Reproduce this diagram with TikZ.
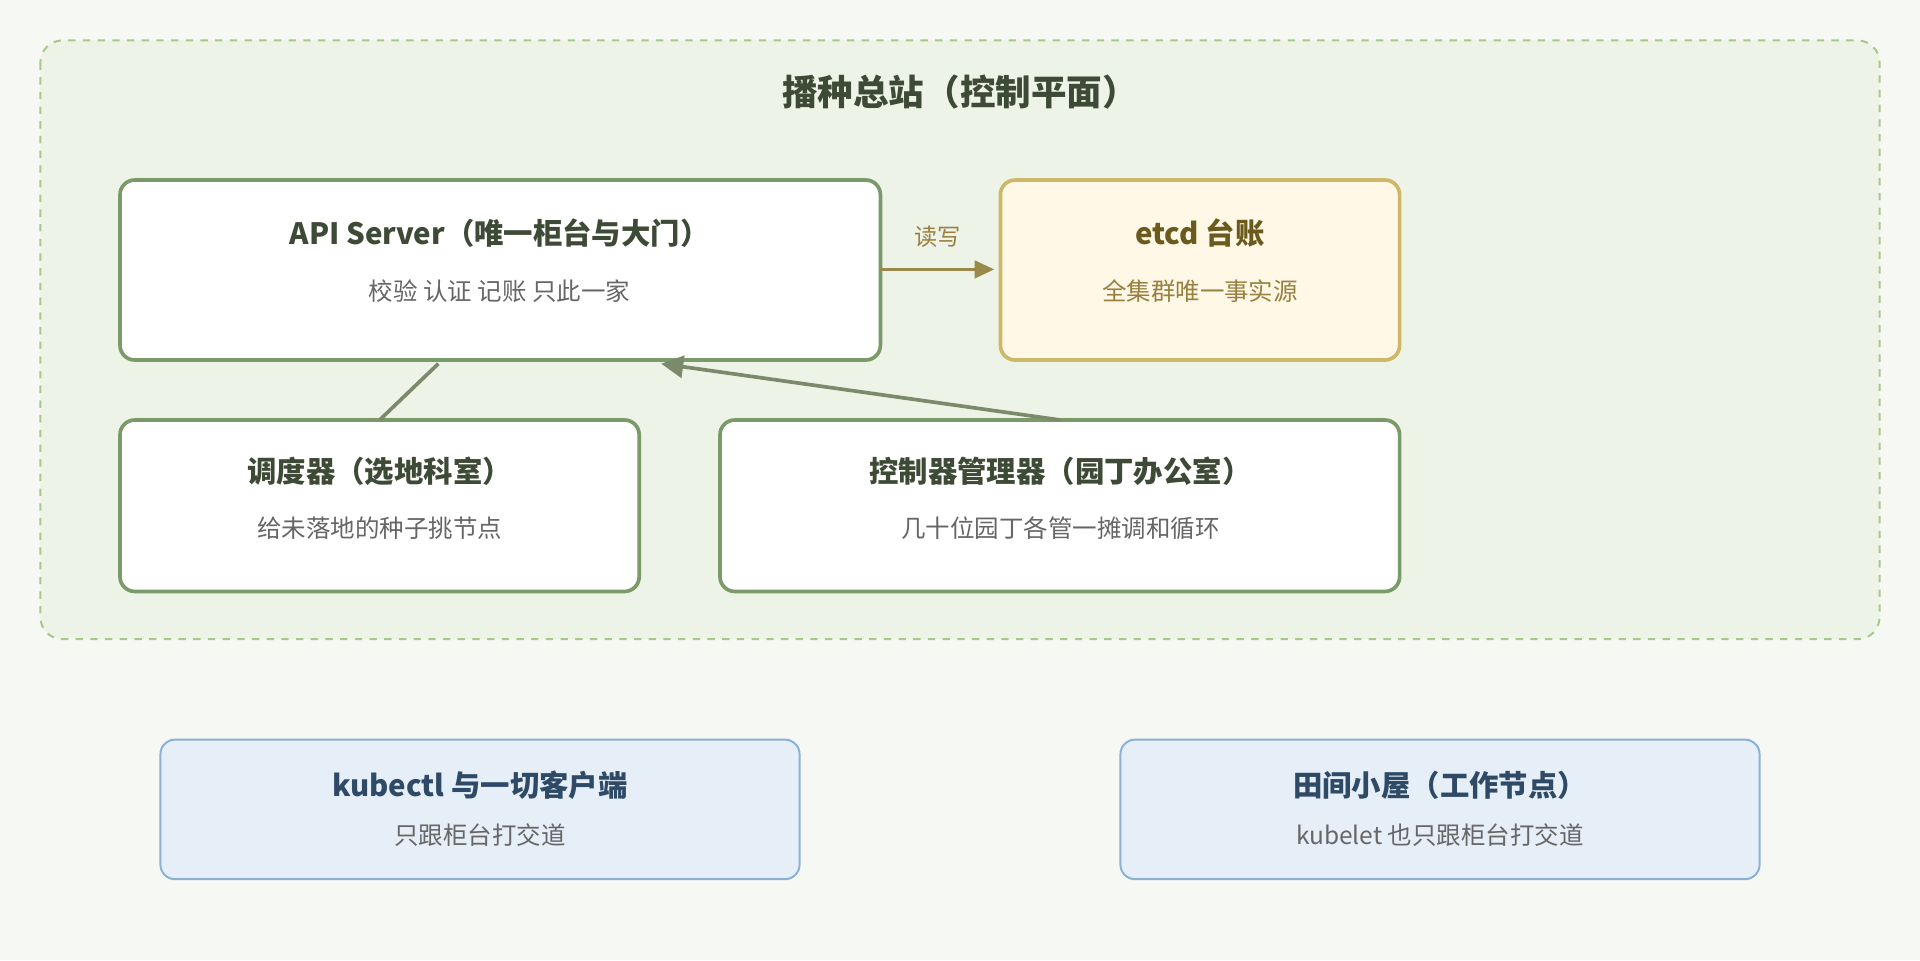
\documentclass[tikz,border=0pt]{standalone}
\usepackage{fontspec}
\setmainfont{Noto Sans CJK SC}
\usetikzlibrary{arrows.meta}
\definecolor{bg}{HTML}{F6F8F4}
\definecolor{grpfill}{HTML}{EEF3E8}
\definecolor{grpline}{HTML}{A8C88A}
\definecolor{gline}{HTML}{7A9A6A}
\definecolor{gtext}{HTML}{3D4A35}
\definecolor{subtext}{HTML}{666666}
\definecolor{efill}{HTML}{FFF8E6}
\definecolor{eline}{HTML}{CDB86A}
\definecolor{etext}{HTML}{6B5A1E}
\definecolor{esub}{HTML}{9A8040}
\definecolor{arr}{HTML}{9A8A4A}
\definecolor{conn}{HTML}{7A8A6A}
\definecolor{bfill}{HTML}{E6EEF7}
\definecolor{bline}{HTML}{8AB0D8}
\definecolor{btext}{HTML}{2E4A66}
\begin{document}
\begin{tikzpicture}[x=0.5pt,y=-0.5pt,
  box/.style={draw=gline,line width=1.5pt,fill=white,rounded corners=6pt},
  ebox/.style={draw=eline,line width=1.5pt,fill=efill,rounded corners=6pt},
  bbox/.style={draw=bline,line width=0.8pt,fill=bfill,rounded corners=6pt},
  ttl/.style={font=\bfseries\fontsize{12}{14}\selectfont,text=gtext},
  sub/.style={font=\fontsize{10}{12}\selectfont,text=subtext}]
\fill[bg] (0,0) rectangle (1568,784);
\draw[grpline,fill=grpfill,dashed,line width=0.8pt,rounded corners=9pt] (33,33) rectangle (1535,522);
\node[font=\bfseries\fontsize{14.5}{17}\selectfont,text=gtext] (title) at (784,75) {播种总站（控制平面）};
\draw[box] (98,147) rectangle (719,294);
\coordinate (apiR) at (719,220);
\node[ttl] (apit) at (408,190) {API Server（唯一柜台与大门）};
\node[sub] (apis) at (408,238) {校验 认证 记账 只此一家};
\draw[ebox] (817,147) rectangle (1143,294);
\coordinate (etcdL) at (812,220);
\node[ttl,text=etext] (et) at (980,190) {etcd 台账};
\node[sub,text=esub] (es) at (980,238) {全集群唯一事实源};
\draw[arr,line width=1.5pt,-{Triangle[length=8pt,width=7pt]}] (apiR) -- (etcdL) node[midway,above=5pt,font=\fontsize{9.5}{11}\selectfont,text=esub] {读写};
\draw[box] (98,343) rectangle (522,483);
\node[ttl] (st) at (310,385) {调度器（选地科室）};
\node[sub] (ss) at (310,431) {给未落地的种子挑节点};
\draw[box] (588,343) rectangle (1143,483);
\node[ttl] (ct) at (866,385) {控制器管理器（园丁办公室）};
\node[sub] (cs) at (866,431) {几十位园丁各管一摊调和循环};
\coordinate (s1) at (310,343); \coordinate (s2) at (358,297);
\coordinate (c1) at (866,343); \coordinate (c2) at (540,297);
\draw[conn,line width=1.5pt] (s1) -- (s2);
\draw[conn,line width=1.5pt,-{Triangle[length=9pt,width=9pt]}] (c1) -- (c2);
\draw[bbox] (131,604) rectangle (653,718);
\node[ttl,text=btext] (kt) at (392,641) {kubectl 与一切客户端};
\node[sub] (ks) at (392,682) {只跟柜台打交道};
\draw[bbox] (915,604) rectangle (1437,718);
\node[ttl,text=btext] (nt) at (1176,641) {田间小屋（工作节点）};
\node[sub] (ns) at (1176,682) {kubelet 也只跟柜台打交道};
\end{tikzpicture}
\end{document}
